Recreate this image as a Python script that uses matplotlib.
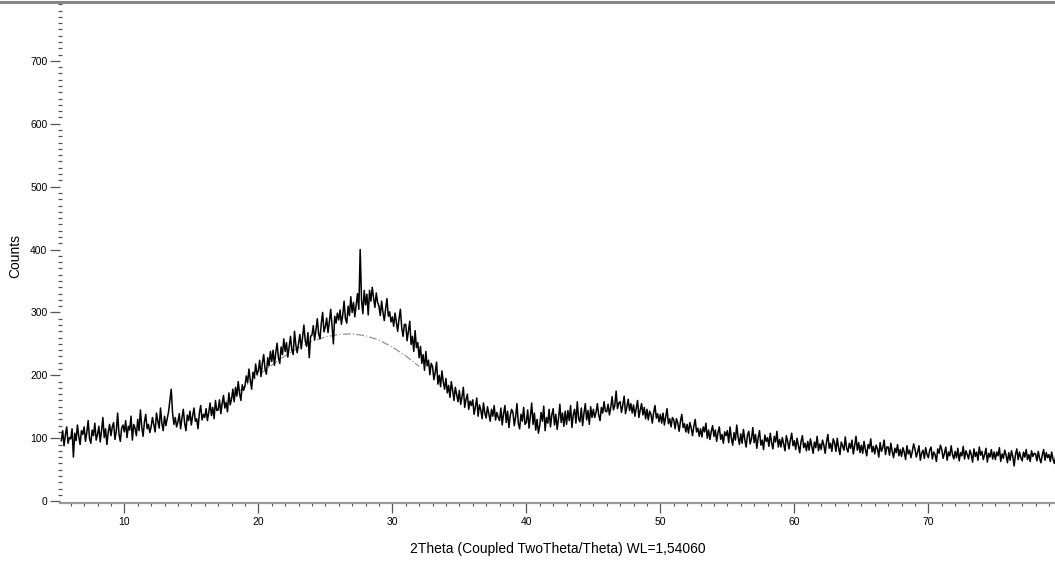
import numpy as np
import matplotlib
matplotlib.use("Agg")
import matplotlib.pyplot as plt
from matplotlib.lines import Line2D
from matplotlib.ticker import MultipleLocator

plt.rcParams['font.family'] = ['Liberation Sans', 'DejaVu Sans']

# scan: 2theta from 5.3 deg in 0.1 deg steps
theta_start = 5.3
theta_step = 0.1

# counts, one row per degree
counts = [
    96, 112, 88, 105, 118, 92, 101,                      # 5.3 - 5.9
    99, 115, 70, 108, 96, 121, 103, 90, 112, 106,        # 6
    118, 95, 109, 128, 100, 92, 113, 104, 124, 97,       # 7
    106, 119, 94, 112, 133, 101, 115, 90, 110, 122,      # 8
    104, 118, 125, 98, 111, 140, 107, 95, 116, 121,      # 9
    110, 128, 101, 119, 113, 135, 97, 122, 116, 104,     # 10
    130, 112, 145, 118, 103, 126, 138, 115, 122, 109,    # 11
    118, 133, 121, 110, 140, 127, 116, 148, 124, 112,    # 12
    135, 120, 131, 142, 160, 178, 140, 122, 133, 118,    # 13
    126, 139, 115, 132, 146, 124, 112, 137, 128, 143,    # 14
    121, 136, 148, 127, 131, 115, 140, 152, 129, 138,    # 15
    133, 147, 128, 141, 156, 136, 149, 131, 160, 144,    # 16
    145, 161, 139, 155, 168, 148, 157, 142, 172, 153,    # 17
    162, 178, 158, 181, 167, 190, 171, 160, 185, 176,    # 18
    183, 199, 188, 210, 192, 178, 205, 196, 218, 201,    # 19
    207, 224, 198, 219, 233, 210, 202, 228, 215, 238,    # 20
    222, 240, 216, 236, 251, 228, 219, 245, 233, 258,    # 21
    238, 252, 229, 246, 262, 240, 233, 270, 248, 236,    # 22
    251, 265, 242, 260, 280, 255, 246, 268, 228, 262,    # 23
    264, 279, 256, 272, 290, 266, 258, 283, 300, 269,    # 24
    277, 291, 268, 285, 305, 279, 250, 294, 283, 299,    # 25
    288, 304, 281, 296, 318, 290, 283, 310, 295, 325,    # 26
    300, 316, 293, 311, 330, 305, 400, 320, 298, 335,    # 27
    312, 329, 296, 335, 318, 340, 323, 308, 331, 316,    # 28
    310, 295, 318, 300, 287, 306, 322, 294, 301, 285,    # 29
    293, 278, 299, 284, 270, 290, 305, 276, 262, 281,    # 30
    281, 255, 270, 286, 249, 262, 238, 271, 244, 252,    # 31
    228, 246, 219, 233, 208, 238, 215, 224, 201, 219,    # 32
    214, 193, 205, 221, 186, 200, 182, 207, 190, 178,    # 33
    195, 172, 184, 165, 190, 176, 160, 181, 169, 158,    # 34
    176, 154, 166, 181, 149, 162, 170, 146, 159, 152,    # 35
    161, 138, 150, 164, 135, 153, 145, 131, 156, 140,    # 36
    132, 150, 139, 127, 146, 135, 152, 129, 141, 133,    # 37
    128, 148, 121, 139, 152, 125, 143, 117, 136, 146,    # 38
    141, 120, 134, 155, 124, 115, 138, 127, 149, 122,    # 39
    125, 145, 116, 135, 156, 122, 140, 113, 130, 108,    # 40
    120, 141, 127, 151, 112, 133, 124, 146, 118, 137,    # 41
    147, 121, 138, 114, 131, 154, 125, 140, 119, 143,    # 42
    122, 144, 128, 152, 117, 137, 146, 124, 158, 131,    # 43
    126, 148, 120, 140, 155, 129, 144, 122, 150, 133,    # 44
    146, 133, 141, 155, 137, 128, 149, 140, 158, 143,    # 45
    142, 154, 137, 149, 166, 145, 152, 175, 147, 156,    # 46
    158, 141, 153, 167, 139, 150, 162, 144, 155, 140,    # 47
    153, 135, 148, 160, 133, 145, 155, 137, 149, 131,    # 48
    146, 129, 143, 138, 124, 141, 152, 132, 139, 126,    # 49
    138, 124, 140, 121, 134, 147, 123, 131, 118, 133,    # 50
    129, 115, 131, 124, 111, 127, 138, 117, 123, 110,    # 51
    122, 108, 125, 117, 104, 119, 130, 110, 116, 103,    # 52
    115, 102, 118, 110, 124, 100, 113, 98, 111, 120,     # 53
    103, 113, 95, 109, 118, 98, 106, 92, 110, 104,       # 54
    112, 93, 118, 100, 89, 109, 97, 121, 102, 90,        # 55
    107, 92, 114, 98, 86, 105, 111, 91, 99, 117,         # 56
    93, 106, 84, 101, 112, 89, 97, 82, 105, 95,          # 57
    101, 87, 108, 93, 83, 103, 94, 111, 86, 98,          # 58
    86, 101, 91, 80, 104, 95, 83, 97, 108, 88,           # 59
    96, 82, 100, 88, 77, 95, 104, 85, 92, 80,            # 60
    95, 81, 99, 87, 76, 94, 85, 103, 80, 91,             # 61
    82, 97, 89, 76, 94, 106, 84, 92, 79, 99,             # 62
    93, 79, 100, 85, 74, 94, 88, 81, 102, 84,            # 63
    78, 92, 84, 97, 75, 88, 103, 81, 93, 77,             # 64
    89, 76, 95, 82, 72, 90, 84, 99, 78, 87,              # 65
    75, 89, 83, 70, 93, 79, 85, 97, 74, 86,              # 66
    86, 73, 92, 79, 69, 84, 77, 90, 72, 82,              # 67
    71, 85, 78, 66, 88, 75, 81, 69, 79, 91,              # 68
    83, 70, 78, 88, 65, 76, 81, 68, 85, 74,              # 69
    69, 81, 86, 67, 78, 74, 63, 83, 76, 89,              # 70
    82, 68, 76, 86, 65, 78, 72, 88, 74, 67,              # 71
    79, 69, 84, 64, 77, 72, 87, 67, 80, 74,              # 72
    67, 81, 74, 62, 83, 71, 78, 65, 86, 73,              # 73
    79, 66, 74, 84, 62, 76, 70, 82, 67, 78,              # 74
    66, 78, 72, 85, 63, 75, 68, 81, 73, 61,              # 75
    77, 65, 80, 71, 56, 74, 83, 66, 78, 69,              # 76
    64, 78, 70, 82, 66, 74, 63, 80, 71, 76,              # 77
    75, 64, 79, 68, 61, 73, 82, 65, 77, 69,              # 78
    74, 63, 78, 67, 60, 71, 80, 65, 73,                  # 79.0 - 79.8
]

# amorphous background hump (grey dash-dot curve)
bg_theta = [17, 18, 19, 20, 21, 22, 23, 24, 25, 26, 27, 28, 29, 30, 31, 32]
bg_counts = [150, 165, 182, 200, 216, 231, 244, 254, 261, 265, 266, 263, 256, 245, 231, 214]

x_ticks = [10, 20, 30, 40, 50, 60, 70]
y_ticks = [0, 100, 200, 300, 400, 500, 600, 700]

theta = theta_start + theta_step * np.arange(len(counts))

fig = plt.figure(figsize=(10.55, 5.66), dpi=100)
ax = fig.add_axes([60 / 1055, 63 / 566, 995 / 1055, 500 / 566])

ax.plot(bg_theta, bg_counts, color='#888888', lw=0.8,
        linestyle=(0, (7, 2, 1, 2)), zorder=1)
ax.plot(theta, counts, color='black', lw=1.1, zorder=2)

ax.set_xlim(5.2, 79.45)
ax.set_ylim(-3, 792)

ax.set_xticks(x_ticks)
ax.set_yticks(y_ticks)
ax.xaxis.set_minor_locator(MultipleLocator(1))
ax.yaxis.set_minor_locator(MultipleLocator(10))

ax.tick_params(axis='x', which='major', direction='out', length=7, width=0.9,
               color='#555555', labelsize=7.5, pad=3)
ax.tick_params(axis='x', which='minor', direction='out', length=2.5, width=0.8,
               color='#555555')
ax.tick_params(axis='y', which='major', direction='out', length=7, width=0.9,
               color='#555555', labelsize=7.5, pad=2)
ax.tick_params(axis='y', which='minor', direction='inout', length=3, width=0.9,
               color='#555555')

for side in ['top', 'right', 'left']:
    ax.spines[side].set_visible(False)
ax.spines['bottom'].set_color('#999999')
ax.spines['bottom'].set_linewidth(1.6)

ax.set_xlabel('2Theta (Coupled TwoTheta/Theta) WL=1,54060', fontsize=10, labelpad=11)
fig.text(15 / 1055, 1 - 256 / 566, 'Counts', rotation=90, fontsize=10,
         ha='center', va='center')

# grey rule across the top of the page
fig.add_artist(Line2D([0, 1], [1 - 2 / 566, 1 - 2 / 566], color='#888888', lw=2.2))

fig.savefig('out.png', dpi=100)
